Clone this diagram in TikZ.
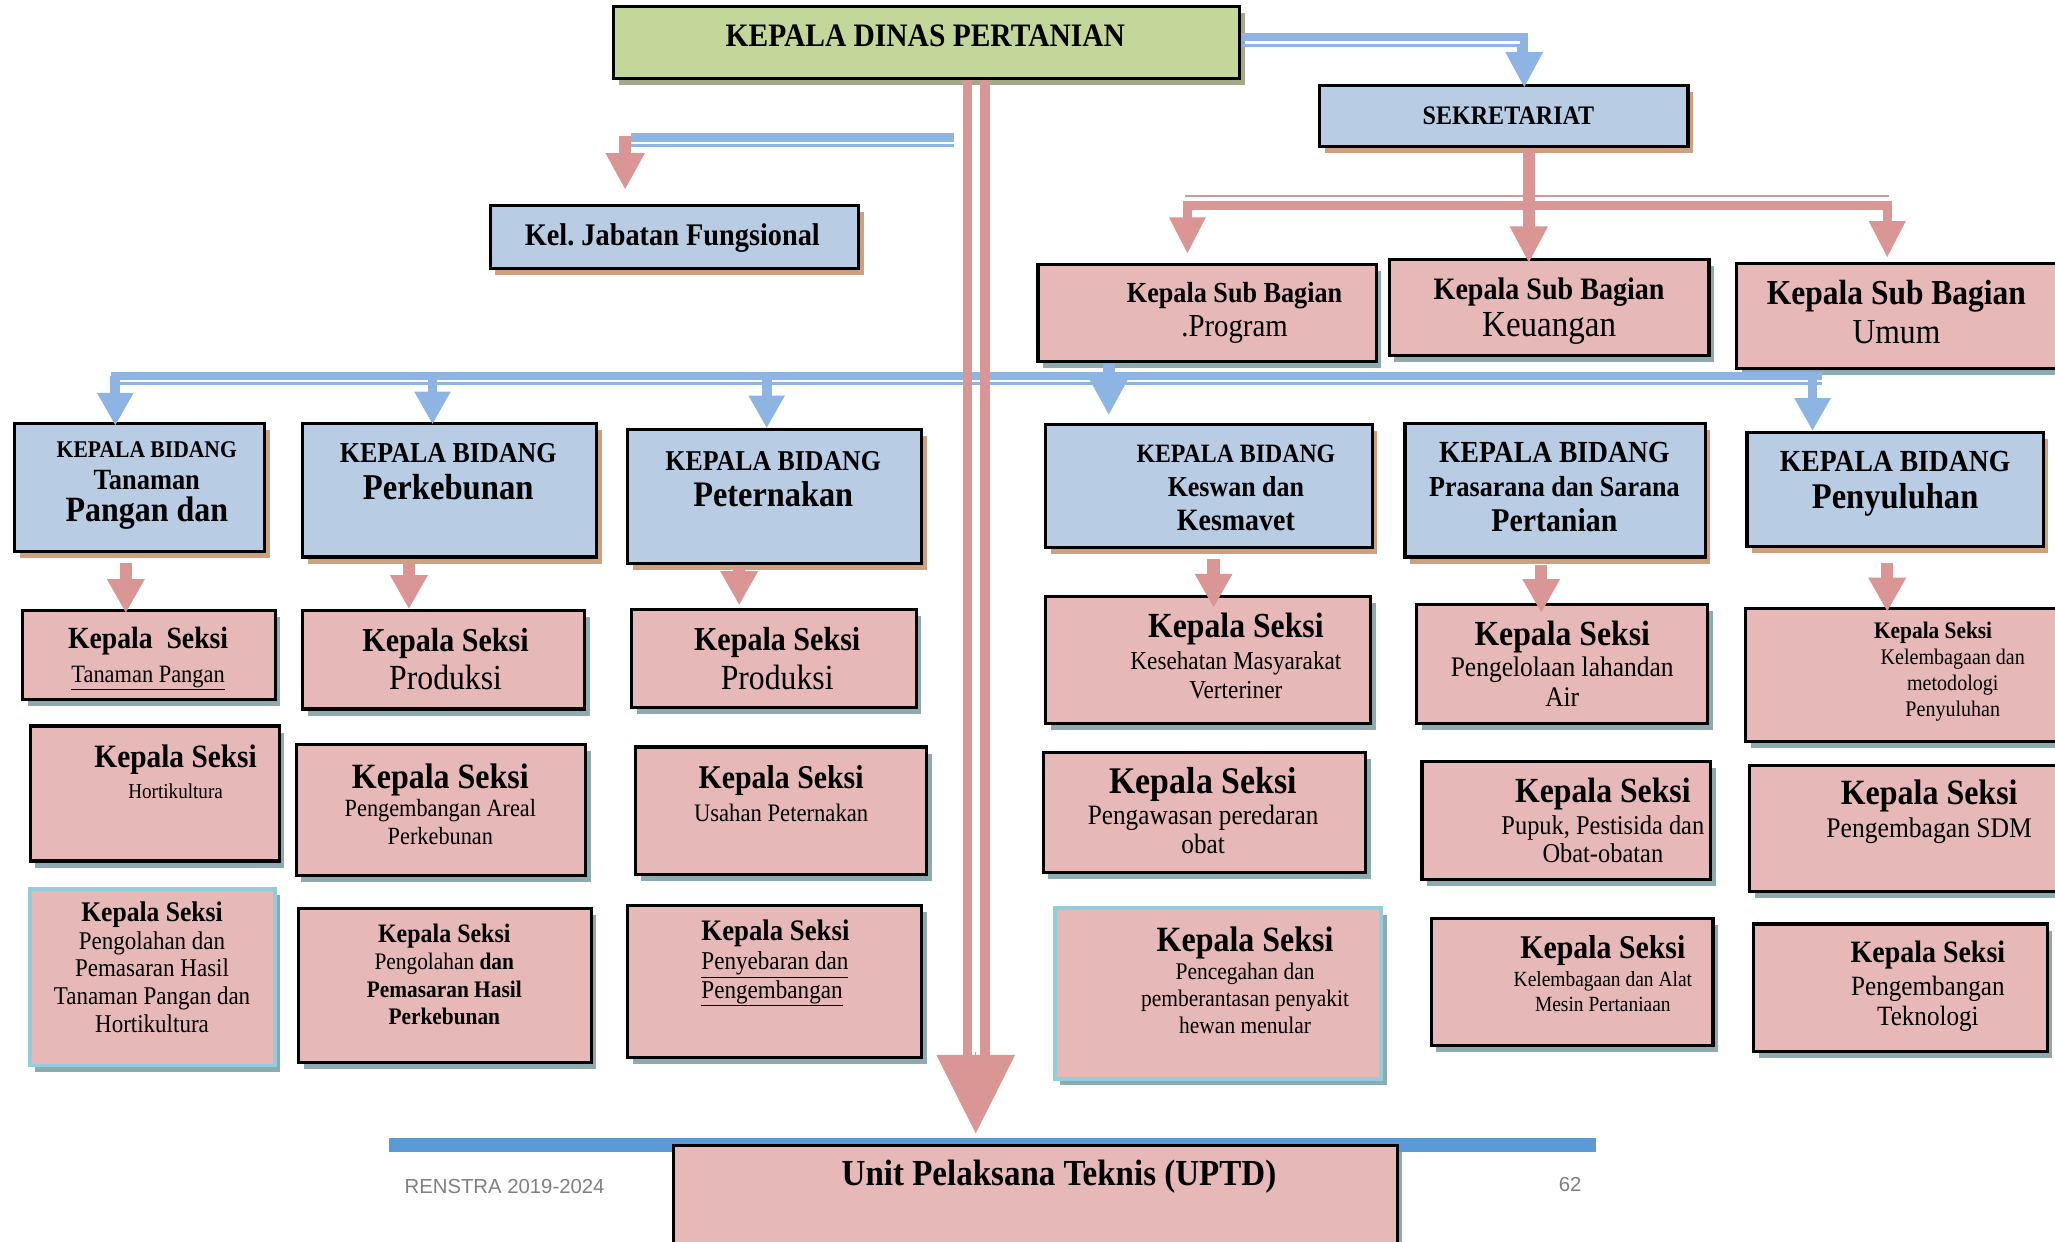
\documentclass[tikz,border=0pt]{standalone}
\usepackage{fontspec}
\setmainfont{Liberation Serif}[FakeStretch=0.9]
\setsansfont{Liberation Sans}
\usepackage{xcolor}
\usepackage{tikz}
\usetikzlibrary{arrows.meta,shadows}

\definecolor{kdgreen}{HTML}{C4D79B}
\definecolor{bidblue}{HTML}{B8CCE4}
\definecolor{seksipink}{HTML}{E6B8B7}
\definecolor{linkblue}{HTML}{8DB4E2}
\definecolor{linkred}{HTML}{D99694}
\definecolor{shgreen}{HTML}{A3A98A}
\definecolor{shtan}{HTML}{CDA07F}
\definecolor{shteal}{HTML}{8DABAF}
\definecolor{edgecyan}{HTML}{92CDDC}
\definecolor{barblue}{HTML}{5B9BD5}
\definecolor{footgray}{HTML}{7F7F7F}

\newcommand{\fsz}[2]{\fontsize{#1}{#2}\selectfont}

\tikzset{
  orgbox/.style={draw=black, line width=2.4pt, rectangle, inner sep=0pt},
  kdbox/.style={orgbox, fill=kdgreen, drop shadow={shadow xshift=4pt, shadow yshift=-5pt, fill=shgreen, opacity=1}},
  bluebox/.style={orgbox, fill=bidblue, drop shadow={shadow xshift=4pt, shadow yshift=-5pt, fill=shtan, opacity=1}},
  pinkbox/.style={orgbox, fill=seksipink, drop shadow={shadow xshift=4pt, shadow yshift=-5pt, fill=shteal, opacity=1}},
  cyanbox/.style={pinkbox, draw=edgecyan, line width=3pt},
  txt/.style={inner sep=0pt, align=center},
  bluelink/.style={draw=linkblue},
  redlink/.style={draw=linkred},
  busarrow/.style={bluelink, line width=7.5pt, -{Triangle[length=25pt,width=26pt]}},
  redarrow/.style={redlink, line width=9.5pt, -{Triangle[length=26pt,width=27pt]}},
}

\begin{document}
\begin{tikzpicture}[x=1pt,y=-1pt]
\useasboundingbox (0,0) rectangle (1568,947);
\clip (0,0) rectangle (1568,947);

% footer rule
\fill[barblue] (297,868) rectangle (1218,879);

% top level
\node[kdbox, minimum width=478pt, minimum height=55pt] (kd) at (707,32.5) {};
\node[bluebox, minimum width=281pt, minimum height=47pt] (sek) at (1147.5,88.5) {};
\node[bluebox, minimum width=281pt, minimum height=48pt] (kjf) at (514.5,181) {};

% sub bagian
\node[pinkbox, minimum width=258pt, minimum height=74pt] (prog) at (921,239) {};
\node[pinkbox, minimum width=244pt, minimum height=73pt] (keu) at (1182,234.5) {};
\node[pinkbox, minimum width=265pt, minimum height=80pt] (umum) at (1457.5,241) {};

% kepala bidang
\node[bluebox, minimum width=191pt, minimum height=98pt] (bTan) at (106.5,372) {};
\node[bluebox, minimum width=224pt, minimum height=102pt] (bKeb) at (343,374) {};
\node[bluebox, minimum width=224pt, minimum height=102pt] (bTer) at (591,379) {};
\node[bluebox, minimum width=249pt, minimum height=94pt] (bKes) at (922.5,371) {};
\node[bluebox, minimum width=229pt, minimum height=102pt] (bPsp) at (1186.5,374) {};
\node[bluebox, minimum width=226pt, minimum height=87pt] (bPny) at (1446,373.5) {};

% kepala seksi
\node[pinkbox, minimum width=193pt, minimum height=68pt] (tan1) at (113.5,500) {};
\node[pinkbox, minimum width=190pt, minimum height=103pt] (tan2) at (118,605.5) {};
\node[cyanbox, minimum width=187pt, minimum height=135pt] (tan3) at (116.5,745.5) {};
\node[pinkbox, minimum width=215pt, minimum height=75pt] (keb1) at (338.5,503.5) {};
\node[pinkbox, minimum width=221pt, minimum height=100pt] (keb2) at (336.5,618) {};
\node[pinkbox, minimum width=223pt, minimum height=118pt] (keb3) at (339.5,752) {};
\node[pinkbox, minimum width=217pt, minimum height=75pt] (ter1) at (590.5,502.5) {};
\node[pinkbox, minimum width=222pt, minimum height=97pt] (ter2) at (596,618.5) {};
\node[pinkbox, minimum width=224pt, minimum height=116pt] (ter3) at (591,749) {};
\node[pinkbox, minimum width=248pt, minimum height=97pt] (kes1) at (922,503.5) {};
\node[pinkbox, minimum width=246pt, minimum height=92pt] (kes2) at (919,620) {};
\node[cyanbox, minimum width=249pt, minimum height=130pt] (kes3) at (929.5,758) {};
\node[pinkbox, minimum width=222pt, minimum height=91pt] (psp1) at (1192,506.5) {};
\node[pinkbox, minimum width=220pt, minimum height=90pt] (psp2) at (1195,626) {};
\node[pinkbox, minimum width=215pt, minimum height=97pt] (psp3) at (1199.5,749.5) {};
\node[pinkbox, minimum width=258pt, minimum height=102pt] (pny1) at (1461,515) {};
\node[pinkbox, minimum width=255pt, minimum height=96pt] (pny2) at (1462.5,632) {};
\node[pinkbox, minimum width=224pt, minimum height=97pt] (pny3) at (1450,753.5) {};

\node[pinkbox, minimum width=552pt, minimum height=111pt] (uptd) at (790,929.5) {};

% kepala dinas -> sekretariat
\draw[bluelink, line width=2pt] ([yshift=-2pt]kd.east) -| ([xshift=11pt,yshift=24pt]sek.north);
\draw[bluelink, line width=6pt, -{Triangle[length=27pt,width=27pt]}, shorten >=-3pt] ([yshift=4pt]kd.east) -| ([xshift=15.5pt]sek.north);

% kepala dinas -> jabatan fungsional
\coordinate (kjfrail) at (728,105);
\draw[bluelink, line width=7pt] (kjfrail) -- ([xshift=-33pt]kjf.north |- kjfrail);
\draw[bluelink, line width=2pt] ([yshift=-6pt]kjfrail) -- ([xshift=-33pt,yshift=-6pt]kjf.north |- kjfrail);
\draw[redlink, line width=9pt, -{Triangle[length=28pt,width=28pt]}, shorten >=11pt] ([xshift=-37.5pt,yshift=1.5pt]kjf.north |- kjfrail) -- ([xshift=-37.5pt]kjf.north);

% sekretariat -> sub bagian
\coordinate (sekbus) at (1166.5,156.5);
\coordinate (railL) at (904,149.5);
\coordinate (railR) at (1441,149.5);
\draw[redlink, line width=2pt] (railL) -- (railR);
\draw[redlink, line width=7pt, {Triangle[length=28pt,width=26pt]}-{Triangle[length=28pt,width=26pt]}, shorten <=7pt, shorten >=3pt] ([xshift=-15pt]prog.north) |- (sekbus) -| ([xshift=-17.5pt]umum.north);
\draw[redlink, line width=9pt, -{Triangle[length=28pt,width=27pt]}, shorten >=-4pt] (sek.south -| sekbus) -- (keu.north -| sekbus);

% bus to kepala bidang
\coordinate (busL) at (85,287);
\coordinate (busR) at (1390,287);
\draw[bluelink, line width=6pt] (busL) -- (busR);
\draw[bluelink, line width=2pt] ([yshift=-5.5pt]busL) -- ([yshift=-5.5pt]busR);
\draw[busarrow, shorten >=-3pt] ([xshift=-18.5pt]bTan.north |- busL) -- ([xshift=-18.5pt]bTan.north);
\draw[busarrow, shorten >=-2pt] ([xshift=-13pt]bKeb.north |- busL) -- ([xshift=-13pt]bKeb.north);
\draw[busarrow] ([xshift=-6pt]bTer.north |- busL) -- ([xshift=-6pt]bTer.north);
\draw[busarrow, line width=9pt, -{Triangle[length=28pt,width=28pt]}, shorten >=6pt] ([xshift=-75pt]prog.south) -- ([xshift=-75pt]prog.south |- bKes.north);
\draw[busarrow] ([xshift=-63pt]bPny.north |- busL) -- ([xshift=-63pt]bPny.north);

% kepala dinas -> UPTD
\draw[redlink, line width=7pt, shorten >=66pt] ([xshift=31pt]kd.south) -- ([xshift=31pt]kd.south |- uptd.north);
\draw[redlink, line width=7pt, shorten >=66pt] ([xshift=44.5pt]kd.south) -- ([xshift=44.5pt]kd.south |- uptd.north);
\draw[redlink, line width=1pt, -{Triangle[length=60pt,width=60pt]}, shorten >=8pt] ([xshift=37.5pt,yshift=70pt]kd.south |- uptd.north) -- ([xshift=37.5pt]kd.south |- uptd.north);

% bidang -> seksi
\draw[redarrow, shorten <=7pt, shorten >=-3pt] ([xshift=-10.5pt]bTan.south) -- ([xshift=-10.5pt]bTan.south |- tan1.north);
\draw[redarrow, shorten <=3pt] ([xshift=-31pt]bKeb.south) -- ([xshift=-31pt]bKeb.south |- keb1.north);
\draw[redarrow, shorten <=2pt, shorten >=2pt] ([xshift=-27pt]bTer.south) -- ([xshift=-27pt]bTer.south |- ter1.north);
\draw[redarrow, shorten <=7pt, shorten >=-10pt] ([xshift=3.5pt]bKes.south) -- ([xshift=3.5pt]bKes.south |- kes1.north);
\draw[redarrow, shorten <=5pt, shorten >=-8pt] ([xshift=-10.5pt]bPsp.south) -- ([xshift=-10.5pt]bPsp.south |- psp1.north);
\draw[redarrow, shorten <=11pt, shorten >=-4pt] ([xshift=-6pt]bPny.south) -- ([xshift=-6pt]bPny.south |- pny1.north);

% texts
\node[txt, font=\bfseries\fsz{25}{30}] (kd-t) at (706,27) {KEPALA DINAS PERTANIAN};
\node[txt, font=\bfseries\fsz{20.4}{24}] (sek-t) at (1151,88) {SEKRETARIAT};
\node[txt, font=\bfseries\fsz{24}{28}] (kjf-t) at (513,182) {Kel.\ Jabatan Fungsional};
\node[txt, font=\fsz{24.4}{26}] (prog-t) at (942,239) {{\bfseries\fsz{22.2}{26}Kepala Sub Bagian}\\.Program};
\node[txt, font=\fsz{28}{28.5}] (keu-t) at (1182,237.5) {{\bfseries\fsz{23.8}{28.5}Kepala Sub Bagian}\\Keuangan};
\node[txt, font=\fsz{26.8}{30}] (umum-t) at (1447,238) {{\bfseries\fsz{26.7}{30}Kepala Sub Bagian}\\Umum};

\node[txt, font=\bfseries\fsz{22.4}{24.5}] (bTan-t) at (112,370.5) {{\fsz{18.3}{24.5}KEPALA BIDANG}\\Tanaman\\{\fsz{27.1}{24.5}Pangan dan}};
\node[txt, font=\bfseries\fsz{27.7}{28}] (bKeb-t) at (342,360) {{\fsz{22}{28}KEPALA BIDANG}\\Perkebunan};
\node[txt, font=\bfseries\fsz{27.4}{28}] (bTer-t) at (590,365.5) {{\fsz{21.9}{28}KEPALA BIDANG}\\Peternakan};
\node[txt, font=\bfseries\fsz{22}{26}] (bKes-t) at (943,372) {{\fsz{20.2}{26}KEPALA BIDANG}\\Keswan dan\\{\fsz{23.7}{26}Kesmavet}};
\node[txt, font=\bfseries\fsz{22.1}{26.5}] (bPsp-t) at (1186,371.5) {{\fsz{23.4}{26.5}KEPALA BIDANG}\\Prasarana dan Sarana\\{\fsz{25.3}{26.5}Pertanian}};
\node[txt, font=\bfseries\fsz{27.6}{28}] (bPny-t) at (1446,369) {{\fsz{23.4}{28}KEPALA BIDANG}\\Penyuluhan};

\node[txt, font=\fsz{19}{26}] (tan1-t) at (113,502.5) {{\bfseries\fsz{23.5}{26}Kepala\ \ Seksi}\\\underline{Tanaman Pangan}};
\node[txt, font=\fsz{16.2}{24}] (tan2-t) at (134,589) {{\bfseries\fsz{24.9}{24}Kepala Seksi}\\Hortikultura};
\node[txt, font=\fsz{19.5}{21.2}] (tan3-t) at (116,738) {{\bfseries\fsz{21.7}{21.2}Kepala Seksi}\\Pengolahan dan\\Pemasaran Hasil\\Tanaman Pangan dan\\Hortikultura};

\node[txt, font=\fsz{26.9}{29}] (keb1-t) at (340,503) {{\bfseries\fsz{25.5}{29}Kepala Seksi}\\Produksi};
\node[txt, font=\fsz{18.9}{21}] (keb2-t) at (336,613.5) {{\bfseries\fsz{27.1}{21}Kepala Seksi}\\[1pt]Pengembangan Areal\\Perkebunan};
\node[txt, font=\fsz{18.1}{20.8}] (keb3-t) at (339,743.5) {{\bfseries\fsz{20.3}{20.8}Kepala Seksi}\\Pengolahan \textbf{dan}\\\textbf{Pemasaran Hasil}\\\textbf{Perkebunan}};

\node[txt, font=\fsz{26.9}{29}] (ter1-t) at (593,502.5) {{\bfseries\fsz{25.5}{29}Kepala Seksi}\\Produksi};
\node[txt, font=\fsz{19.2}{25}] (ter2-t) at (596,605.5) {{\bfseries\fsz{25.3}{25}Kepala Seksi}\\Usahan Peternakan};
\node[txt, align=left, anchor=west, font=\fsz{19.6}{22}] (ter3-t) at (535,735) {{\bfseries\fsz{22.7}{22}Kepala Seksi}\\\underline{Penyebaran dan}\\\underline{Pengembangan}};

\node[txt, font=\fsz{19.7}{22.5}] (kes1-t) at (943,500.5) {{\bfseries\fsz{26.9}{22.5}Kepala Seksi}\\[2pt]Kesehatan Masyarakat\\Verteriner};
\node[txt, font=\fsz{21.4}{22}] (kes2-t) at (918,618.5) {{\bfseries\fsz{28.7}{22}Kepala Seksi}\\[2pt]Pengawasan peredaran\\obat};
\node[txt, font=\fsz{18.2}{20.5}] (kes3-t) at (950,748) {{\bfseries\fsz{27.1}{20.5}Kepala Seksi}\\[1pt]Pencegahan dan\\pemberantasan penyakit\\hewan menular};

\node[txt, font=\fsz{21.6}{22.5}] (psp1-t) at (1192,506.5) {{\bfseries\fsz{26.9}{22.5}Kepala Seksi}\\[1pt]Pengelolaan lahandan\\Air};
\node[txt, font=\fsz{20.7}{21.5}] (psp2-t) at (1223,626) {{\bfseries\fsz{26.9}{21.5}Kepala Seksi}\\[3pt]Pupuk, Pestisida dan\\Obat-obatan};
\node[txt, font=\fsz{16.5}{19}] (psp3-t) at (1223,743) {{\bfseries\fsz{25.3}{19}Kepala Seksi}\\[2pt]Kelembagaan dan Alat\\Mesin Pertaniaan};

\node[txt, font=\fsz{17}{20}] (pny1-t) at (1490,512.5) {{\bfseries\fsz{18.1}{20}Kepala Seksi}\hspace*{30pt}\\Kelembagaan dan\\metodologi\\Penyuluhan};
\node[txt, font=\fsz{21.7}{25}] (pny2-t) at (1472,619.5) {{\bfseries\fsz{27.1}{25}Kepala Seksi}\\Pengembagan SDM};
\node[txt, font=\fsz{21.3}{23}] (pny3-t) at (1471,752.5) {{\bfseries\fsz{23.7}{23}Kepala Seksi}\\[2pt]Pengembangan\\Teknologi};

\node[txt, font=\bfseries\fsz{28}{32}] (uptd-t) at (808,898) {Unit Pelaksana Teknis (UPTD)};
\node[txt, font=\sffamily\fsz{15.5}{18}, text=footgray] (renstra) at (385,905) {RENSTRA 2019-2024};
\node[txt, font=\sffamily\fsz{15.5}{18}, text=footgray] (page) at (1198,904) {62};
\end{tikzpicture}
\end{document}
